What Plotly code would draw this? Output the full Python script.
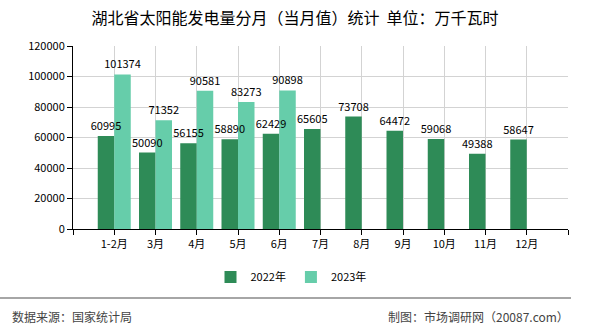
import plotly.graph_objects as go

categories = ["1-2月", "3月", "4月", "5月", "6月", "7月", "8月", "9月", "10月", "11月", "12月"]
values_2022 = [60995, 50090, 56155, 58890, 62429, 65605, 73708, 64472, 59068, 49388, 58647]
values_2023 = [101374, 71352, 90581, 83273, 90898]
series_names = ["2022年", "2023年"]
y_ticks = [0, 20000, 40000, 60000, 80000, 100000, 120000]

title_text = "湖北省太阳能发电量分月（当月值）统计&nbsp;&nbsp;单位：万千瓦时"
source_text = "数据来源：国家统计局"
credit_text = "制图：市场调研网（20087.com）"

FONT = "Noto Sans CJK SC, Liberation Sans, sans-serif"
C2022 = "#2e8b57"
C2023 = "#66cdaa"

x_pos = list(range(1, len(categories) + 1))
series = [(series_names[0], values_2022, C2022, "a"),
          (series_names[1], values_2023, C2023, "b")]

fig = go.Figure()
# visible bars
for name, vals, col, grp in series:
    fig.add_trace(go.Bar(
        x=x_pos[:len(vals)], y=vals, name=name, offsetgroup=grp,
        marker=dict(color=col, line=dict(width=0)),
        hoverinfo="x+y",
    ))
# transparent overlay bars that carry the value labels (drawn on top)
for name, vals, col, grp in series:
    fig.add_trace(go.Bar(
        x=x_pos[:len(vals)], y=vals, name=name, offsetgroup=grp,
        marker=dict(color="rgba(0,0,0,0)", line=dict(width=0)),
        text=[str(v) for v in vals], textposition="outside",
        textfont=dict(size=11, color="#000000", family=FONT),
        constraintext="none", cliponaxis=False,
        showlegend=False, hoverinfo="skip",
    ))

tickvals = list(range(0, len(categories) + 2))
ticktext = [""] + categories + [""]

fig.update_layout(
    width=590, height=330,
    margin=dict(l=73, r=22, t=46, b=101),
    paper_bgcolor="white", plot_bgcolor="white",
    barmode="group", bargap=0.2, bargroupgap=0,
    font=dict(family=FONT, size=11, color="#000000"),
    title=dict(text=title_text, x=295 / 590, xanchor="center", xref="container",
               y=1 - 18 / 330, yanchor="middle", yref="container",
               font=dict(size=16, color="#000000", family=FONT)),
    showlegend=True,
    legend=dict(orientation="h", x=291 / 590, xanchor="center", xref="container",
                y=1 - 277 / 330, yanchor="middle", yref="container",
                font=dict(size=11, family=FONT),
                itemwidth=30, traceorder="normal"),
    xaxis=dict(range=[0, len(categories) + 1], tickmode="array",
               tickvals=tickvals, ticktext=ticktext,
               showgrid=True, gridcolor="#d3d3d3", gridwidth=1,
               showline=True, linecolor="#000000", linewidth=1,
               ticks="outside", ticklen=5, tickcolor="#000000",
               tickfont=dict(size=11, family=FONT), zeroline=False),
    yaxis=dict(range=[0, 120000], tickmode="array", tickvals=y_ticks,
               ticktext=[str(v) for v in y_ticks],
               showgrid=True, gridcolor="#d3d3d3", gridwidth=1,
               showline=True, linecolor="#000000", linewidth=1,
               ticks="outside", ticklen=5, tickcolor="#000000",
               tickfont=dict(size=11, family=FONT), zeroline=False),
)

fig.add_shape(type="line", xref="paper", yref="paper",
              x0=-73 / 495, x1=(571 - 73) / 495,
              y0=(229 - 298) / 183, y1=(229 - 298) / 183,
              line=dict(color="#888888", width=1.5))
fig.add_annotation(text=source_text, xref="paper", yref="paper",
                   x=(10 - 73) / 495, y=(229 - 316) / 183,
                   xanchor="left", yanchor="middle", showarrow=False,
                   font=dict(size=12, color="#444444", family=FONT))
fig.add_annotation(text=credit_text, xref="paper", yref="paper",
                   x=(571 - 73) / 495, y=(229 - 316) / 183,
                   xanchor="right", yanchor="middle", showarrow=False,
                   font=dict(size=12, color="#444444", family=FONT))

fig.write_html("out.html")
